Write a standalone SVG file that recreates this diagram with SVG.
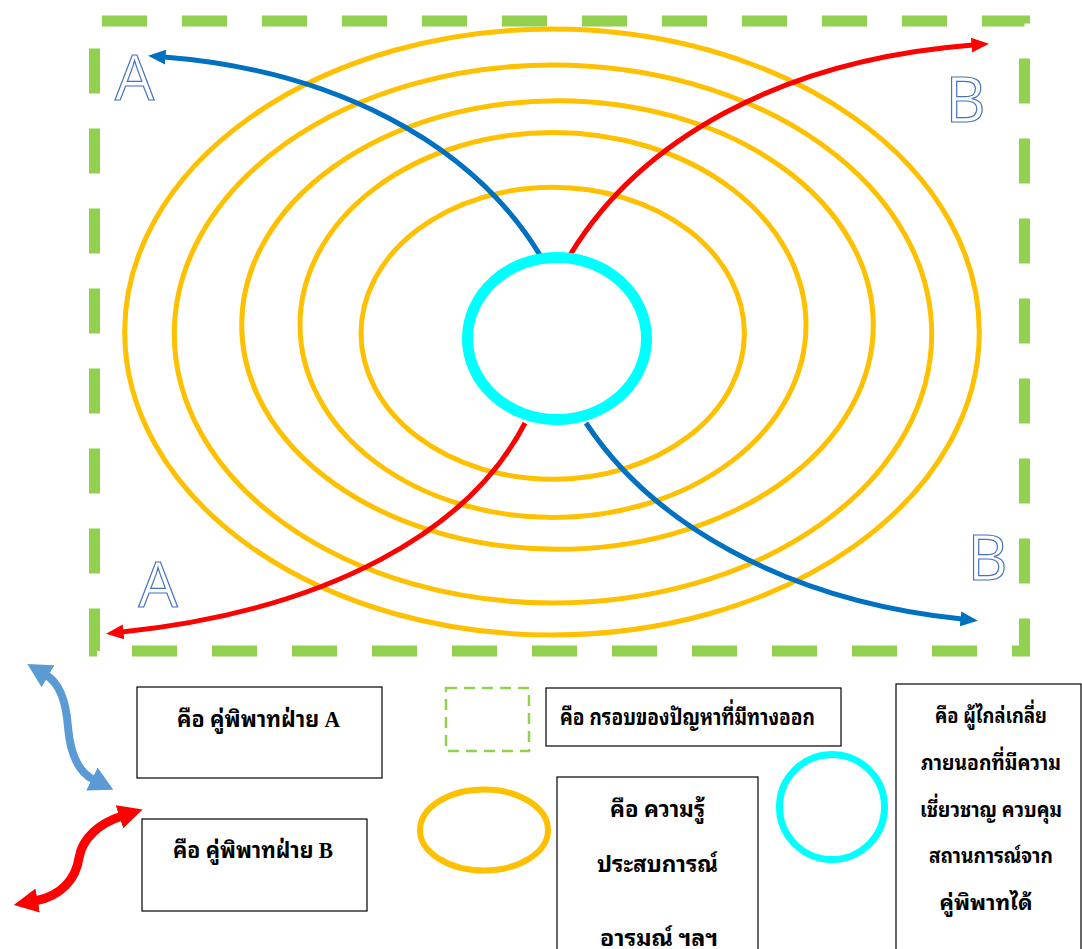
<svg xmlns="http://www.w3.org/2000/svg" width="1082" height="949" viewBox="0 0 1082 949">
<style>
.ring{fill:none;stroke:#FFC000;stroke-width:5}
.big{font-family:"Open Sans","Noto Sans",sans-serif;font-size:62px;fill:#fff;stroke:#4472C4;stroke-width:1.2;text-anchor:middle}
.box{fill:#fff;stroke:#000;stroke-width:1.2}
.th{font-family:"Liberation Serif","Noto Sans Thai Looped","Noto Serif Thai","Noto Sans Thai","Tlwg Typo","Loma","Garuda",serif;font-size:23px;font-weight:bold;fill:#000}
.sm{font-size:21px}
.c{text-anchor:middle}
.blue{fill:none;stroke:#0070C0;stroke-width:5}
.red{fill:none;stroke:#FF0000;stroke-width:5}
</style>
<defs>
<marker id="hb" markerWidth="3.5" markerHeight="3" refX="0.3" refY="1.5" orient="auto" markerUnits="strokeWidth" viewBox="0 0 3.5 3"><path d="M0,0 L3.5,1.5 L0,3 Z" fill="#0070C0"/></marker>
<marker id="hr" markerWidth="3.5" markerHeight="3" refX="0.3" refY="1.5" orient="auto" markerUnits="strokeWidth" viewBox="0 0 3.5 3"><path d="M0,0 L3.5,1.5 L0,3 Z" fill="#FF0000"/></marker>
<marker id="lb" markerWidth="3" markerHeight="3.2" refX="0.3" refY="1.6" orient="auto-start-reverse" markerUnits="strokeWidth" viewBox="0 0 3 3.2"><path d="M0,0 L3,1.6 L0,3.2 Z" fill="#5B9BD5"/></marker>
<marker id="lr" markerWidth="2.7" markerHeight="2.7" refX="0.3" refY="1.35" orient="auto-start-reverse" markerUnits="strokeWidth" viewBox="0 0 2.7 2.7"><path d="M0,0 L2.7,1.35 L0,2.7 Z" fill="#FF0000"/></marker>
</defs>

<g id="frame">
<rect x="94.5" y="21" width="930" height="630" fill="none" stroke="#92D050" stroke-width="11" stroke-dasharray="45 35" stroke-dashoffset="72.5"/>
</g>

<g id="rings">
<ellipse class="ring" cx="552" cy="332" rx="427.3" ry="303"/>
<ellipse class="ring" cx="553" cy="334" rx="378.7" ry="269"/>
<ellipse class="ring" cx="557.5" cy="325" rx="315.8" ry="224.3"/>
<ellipse class="ring" cx="553" cy="325" rx="253" ry="192.5"/>
<ellipse class="ring" cx="552.7" cy="333.3" rx="191.7" ry="146"/>
</g>

<g id="connectors">
<path class="blue" d="M540,255 C470,140 330,70 164,57" marker-end="url(#hb)"/>
<path class="red" d="M570,255 C640,140 780,60 973,45" marker-end="url(#hr)"/>
<path class="red" d="M525,423 C470,530 330,610 122,632" marker-end="url(#hr)"/>
<path class="blue" d="M586,423 C650,520 780,600 962,619" marker-end="url(#hb)"/>
</g>

<g id="mediator">
<ellipse cx="557" cy="338.5" rx="89.5" ry="81" fill="none" stroke="#00FFFF" stroke-width="11"/>
</g>

<g id="labels">
<text class="big" x="134.5" y="100">A</text>
<text class="big" x="965.5" y="122">B</text>
<text class="big" x="158" y="607">A</text>
<text class="big" x="987.5" y="580">B</text>
</g>

<g id="legend-arrow-a">
<path d="M46,675 C58,682 66,700 68,727 C70,752 78,772 94,780" fill="none" stroke="#5B9BD5" stroke-width="8" marker-start="url(#lb)" marker-end="url(#lb)"/>
</g>
<g id="legend-arrow-b">
<path d="M122,816 C100,823 82,838 79,858 C76,878 62,896 35,901" fill="none" stroke="#FF0000" stroke-width="9" marker-start="url(#lr)" marker-end="url(#lr)"/>
</g>

<g id="box-a">
<rect class="box" x="137" y="687" width="245" height="91"/>
<text class="th c" x="258.5" y="727" textLength="163" lengthAdjust="spacingAndGlyphs">คือ คู่พิพาทฝ่าย A</text>
</g>
<g id="box-b">
<rect class="box" x="142" y="819" width="225" height="92"/>
<text class="th c" x="253" y="858" textLength="160" lengthAdjust="spacingAndGlyphs">คือ คู่พิพาทฝ่าย B</text>
</g>

<g id="legend-frame">
<rect x="446" y="688" width="83" height="63" fill="none" stroke="#92D050" stroke-width="2.5" stroke-dasharray="11 7"/>
</g>
<g id="box-frame">
<rect class="box" x="546" y="688" width="295" height="58"/>
<text class="th" x="560" y="725" textLength="255" lengthAdjust="spacingAndGlyphs">คือ กรอบของปัญหาที่มีทางออก</text>
</g>

<g id="legend-ring">
<ellipse cx="484" cy="830" rx="64" ry="40.5" fill="none" stroke="#FFC000" stroke-width="6"/>
</g>
<g id="box-ring">
<rect class="box" x="557" y="777" width="201" height="200"/>
<text class="th c" x="657.5" y="817" textLength="95" lengthAdjust="spacingAndGlyphs">คือ ความรู้</text>
<text class="th c" x="657.5" y="872" textLength="121" lengthAdjust="spacingAndGlyphs">ประสบการณ์</text>
<text class="th c" x="659" y="946" textLength="118" lengthAdjust="spacingAndGlyphs">อารมณ์ ฯลฯ</text>
</g>

<g id="legend-mediator">
<circle cx="832" cy="807" r="52.5" fill="none" stroke="#00FFFF" stroke-width="7"/>
</g>
<g id="box-mediator">
<rect class="box" x="896" y="684" width="185" height="300"/>
<text class="th sm c" x="991" y="723" textLength="112" lengthAdjust="spacingAndGlyphs">คือ ผู้ไกล่เกลี่ย</text>
<text class="th sm c" x="991" y="770" textLength="140" lengthAdjust="spacingAndGlyphs">ภายนอกที่มีความ</text>
<text class="th sm c" x="991" y="817" textLength="142" lengthAdjust="spacingAndGlyphs">เชี่ยวชาญ ควบคุม</text>
<text class="th sm c" x="991" y="863" textLength="124" lengthAdjust="spacingAndGlyphs">สถานการณ์จาก</text>
<text class="th sm c" x="986" y="910" textLength="93" lengthAdjust="spacingAndGlyphs">คู่พิพาทได้</text>
</g>
</svg>
